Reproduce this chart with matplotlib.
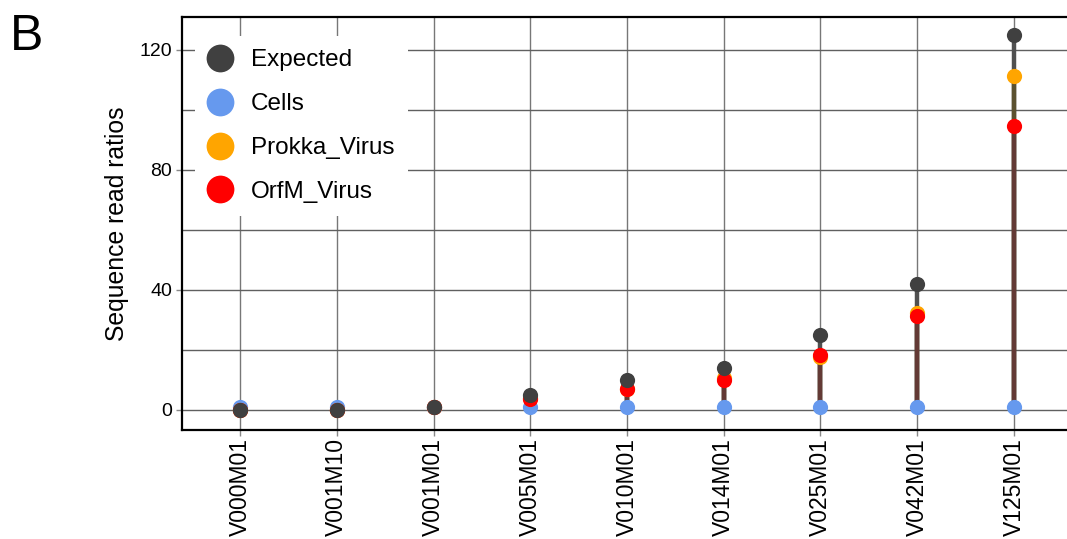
import matplotlib
matplotlib.use("Agg")
import matplotlib.pyplot as plt
import numpy as np

categories = ['V000M01', 'V001M10', 'V001M01', 'V005M01', 'V010M01',
              'V014M01', 'V025M01', 'V042M01', 'V125M01']
expected = [0, 0, 1, 5, 10, 14, 25, 42, 125]
cells = [1, 1, 1, 1, 1, 1, 1, 1, 1]
prokka = [0, 0, 1, 4, 7, 10.5, 17.7, 32.4, 111.3]
orfm = [0, 0, 1, 3.7, 7, 10, 18.3, 31.4, 94.5]

plt.rcParams['font.family'] = ['Liberation Sans', 'DejaVu Sans']

W, H = 1067, 539
fig = plt.figure(figsize=(W / 100, H / 100), dpi=100)
left, right, top, bottom = 182, 1072, 17, 430
ax = fig.add_axes([left / W, 1 - bottom / H, (right - left) / W, (bottom - top) / H])

x = np.arange(len(categories))

c_exp = '#404040'
c_cells = '#6699ee'
c_prokka = '#ffa500'
c_orfm = '#ff0000'

ax.set_xlim(-0.6, len(categories) - 1 + 0.6)
ax.set_ylim(-6.67, 131)

# grid
ax.set_yticks([0, 40, 80, 120])
ax.set_yticks([20, 60, 100], minor=True)
ax.set_xticks(x)
ax.set_xticklabels(categories, rotation=90)
ax.grid(True, which='major', axis='y', color='#606060', lw=1.0)
ax.grid(True, which='minor', axis='y', color='#606060', lw=1.0)
ax.grid(True, which='major', axis='x', color='#777777', lw=1.0)
ax.tick_params(axis='y', which='minor', length=0)
ax.tick_params(axis='both', which='major', length=4, width=1, color='#888888')
ax.tick_params(axis='y', labelsize=14, pad=3)
ax.tick_params(axis='x', labelsize=16.5, pad=2)
ax.set_axisbelow(True)

# stems
lw = 3.2
ax.vlines(x, cells, expected, color='#505050', lw=lw, zorder=2)
ax.vlines(x, cells, prokka, color='#5b5130', lw=lw, zorder=2.1)
ax.vlines(x, cells, orfm, color='#633a35', lw=lw, zorder=2.2)

ms = 120
ax.scatter(x, cells, s=ms, color=c_cells, zorder=3, linewidths=0)
ax.scatter(x, prokka, s=ms, color=c_prokka, zorder=3.1, linewidths=0)
ax.scatter(x, orfm, s=ms, color=c_orfm, zorder=3.2, linewidths=0)
ax.scatter(x, expected, s=ms, color=c_exp, zorder=3.3, linewidths=0)

for s in ['left', 'bottom', 'top', 'right']:
    ax.spines[s].set_linewidth(1.6)
    ax.spines[s].set_color('black')

ax.set_ylabel('Sequence read ratios', fontsize=17.8, labelpad=8)

from matplotlib.lines import Line2D
handles = [Line2D([], [], ls='none', marker='o', markersize=20, color=c, markeredgewidth=0)
           for c in [c_exp, c_cells, c_prokka, c_orfm]]
leg = ax.legend(handles, ['Expected', 'Cells', 'Prokka_Virus', 'OrfM_Virus'],
                loc='upper left', bbox_to_anchor=(0.009, 0.966), fontsize=17.5,
                frameon=True, facecolor='white', edgecolor='none', framealpha=1,
                fancybox=False, handlelength=1.0, handletextpad=0.75,
                labelspacing=0.9, borderpad=0.55, borderaxespad=0.2)
leg.set_zorder(5)

fig.text(10 / W, 1 - 50 / H, 'B', fontsize=36, ha='left', va='baseline')

fig.savefig('out.png', dpi=100)
